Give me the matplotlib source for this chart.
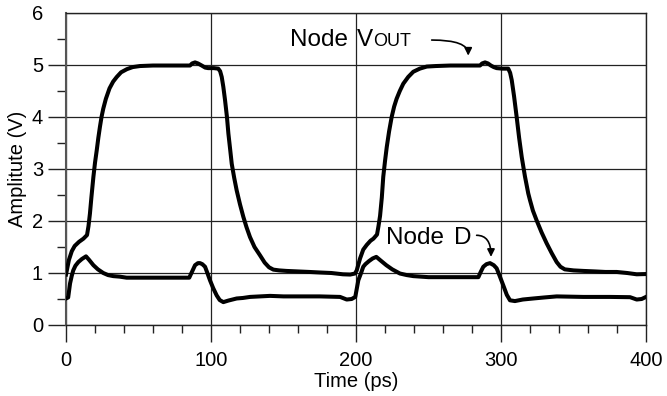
import matplotlib
matplotlib.use("Agg")
import matplotlib.pyplot as plt
from matplotlib.ticker import MultipleLocator, FixedLocator

plt.rcParams['font.family'] = ['Liberation Sans', 'DejaVu Sans']

# ---- data ----
vout_t = [0, 2, 4, 6, 9, 12, 14.5, 15.5, 16.5, 17.5, 18.9, 20, 21.2, 22.3, 23.4, 24.5,
          25.7, 27.5, 30, 32.5, 35, 38, 42, 46, 51, 60, 70, 80, 85.5, 87, 89, 91, 93.6,
          96, 98, 102, 105, 106.3, 107.4, 108.5, 109.7, 111, 112, 113.2, 114.3, 116,
          117.7, 120, 122.3, 124.5, 126.9, 130, 133.8, 137, 140, 143, 147, 152, 160,
          168, 175, 183, 191, 196, 199.3,
          200.5, 202.8, 205, 207.4, 210, 212, 214.5, 215.5, 216.6, 217.8, 218.8, 220,
          221.2, 222.8, 224.6, 226.3, 228, 230.2, 232.6, 236, 239.5, 244, 248.8, 255,
          265, 275, 285.5, 287, 289, 291, 293, 295, 297, 301, 305, 306.3, 307.4, 309,
          310.8, 312.5, 314.3, 316.5, 318.8, 320, 322, 324.6, 328, 331.5, 335, 338.4,
          341, 344, 350, 356.8, 365, 372, 379.8, 387, 393.6, 400]
vout_v = [0.97, 1.25, 1.42, 1.52, 1.60, 1.66, 1.73, 1.90, 2.14, 2.45, 2.85, 3.12, 3.36,
          3.60, 3.81, 4.00, 4.16, 4.35, 4.55, 4.68, 4.77, 4.86, 4.92, 4.96, 4.98, 4.99,
          4.99, 4.99, 4.99, 5.03, 5.05, 5.03, 4.99, 4.95, 4.94, 4.94, 4.93, 4.88, 4.77,
          4.58, 4.32, 4.00, 3.68, 3.38, 3.10, 2.83, 2.59, 2.32, 2.08, 1.88, 1.69, 1.50,
          1.34, 1.20, 1.11, 1.065, 1.05, 1.04, 1.03, 1.02, 1.01, 1.00, 0.975, 0.97, 0.99,
          1.05, 1.28, 1.45, 1.54, 1.62, 1.66, 1.74, 1.90, 2.10, 2.45, 2.85, 3.15,
          3.42, 3.72, 4.00, 4.20, 4.35, 4.50, 4.64, 4.77, 4.87, 4.93, 4.97, 4.98,
          4.99, 4.99, 4.99, 5.03, 5.05, 5.03, 4.99, 4.96, 4.94, 4.93, 4.93, 4.85, 4.71,
          4.40, 4.00, 3.60, 3.23, 2.86, 2.53, 2.40, 2.20, 2.01, 1.78, 1.57, 1.38, 1.21,
          1.12, 1.07, 1.05, 1.04, 1.03, 1.02, 1.02, 1.00, 0.975, 0.98]

d_t = [0, 1.5, 2.8, 4, 5, 6.5, 8.5, 11, 13.8, 16, 18.9, 22, 25.7, 29, 32.6, 37, 41.8,
       60, 75, 85, 87, 89, 91, 92.4, 94, 95.9, 97.5, 99.3, 101.5, 103.9, 106, 108.5,
       112, 117.7, 122, 126.9, 133.8, 140.7, 150, 160, 175, 189, 193.6, 197, 199.5,
       201.6, 203.5, 205, 206.5, 209, 211.5, 214, 217, 220.9, 225, 230.3, 235, 239.5,
       250, 265, 284.4, 286, 287.8, 290, 292.4, 295, 297, 299, 301.6, 304, 306.2,
       309.6, 315, 322.3, 330, 338.4, 356.8, 375, 389, 393.6, 397, 400]
d_v = [0.51, 0.53, 0.80, 0.95, 1.05, 1.14, 1.21, 1.27, 1.32, 1.25, 1.15, 1.07, 1.00,
       0.96, 0.94, 0.93, 0.91, 0.91, 0.91, 0.91, 1.03, 1.15, 1.19, 1.19, 1.17, 1.12,
       1.00, 0.86, 0.71, 0.57, 0.48, 0.44, 0.47, 0.51, 0.52, 0.54, 0.55, 0.56, 0.55,
       0.55, 0.55, 0.54, 0.49, 0.50, 0.54, 0.86, 1.00, 1.12, 1.17, 1.23, 1.28, 1.31,
       1.24, 1.15, 1.07, 0.99, 0.96, 0.94, 0.92, 0.92, 0.92, 1.02, 1.12, 1.17, 1.19,
       1.15, 1.09, 0.95, 0.76, 0.58, 0.475, 0.46, 0.49, 0.51, 0.53, 0.55, 0.54, 0.54,
       0.535, 0.49, 0.50, 0.54]

x_major = [0, 100, 200, 300, 400]
y_major = [0, 1, 2, 3, 4, 5, 6]

fig = plt.figure(figsize=(6.67, 3.96), dpi=100)
ax = fig.add_axes([66/667, 1-325/396, 580/667, 312/396])

ax.plot(vout_t, vout_v, color='black', lw=2.9, solid_joinstyle='round', zorder=3)
ax.plot(d_t, d_v, color='black', lw=2.9, solid_joinstyle='round', zorder=3)

ax.set_xlim(0, 400)
ax.set_ylim(0, 6)
ax.xaxis.set_major_locator(FixedLocator(x_major))
ax.yaxis.set_major_locator(FixedLocator(y_major))
ax.xaxis.set_minor_locator(MultipleLocator(20))
ax.yaxis.set_minor_locator(MultipleLocator(0.5))

ax.grid(True, which='major', color='#222222', lw=0.9)
for s in ax.spines.values():
    s.set_color('#222222')
    s.set_linewidth(1.0)
ax.spines['left'].set_color('#555555')
ax.spines['left'].set_linewidth(1.5)

fs_tick = 14.5
ax.tick_params(axis='x', which='major', direction='out', length=12.2, width=1.0,
               color='#222222', labelsize=fs_tick, pad=6.5)
ax.tick_params(axis='x', which='minor', direction='out', length=5.8, width=1.0, color='#222222')
ax.tick_params(axis='y', which='major', direction='out', length=13, width=1.0,
               color='#222222', labelsize=fs_tick, pad=3.5)
ax.tick_params(axis='y', which='minor', direction='out', length=6.5, width=1.0, color='#222222')
ax.tick_params(top=False, right=False)
ax.yaxis.get_major_ticks()[-1].tick1line.set_visible(False)

ax.set_xlabel('Time (ps)', fontsize=fs_tick)
ax.set_ylabel('Amplitute (V)', fontsize=fs_tick)
ax.xaxis.set_label_coords(0.5, -0.152)
ax.yaxis.set_label_coords(-0.068, 0.5)

# annotations
fs_big = 17.5
fs_small = 13.0
ax.text(154.5, 5.37, 'Node', fontsize=fs_big, ha='left', va='baseline', zorder=4)
t1 = ax.text(200.3, 5.37, 'V', fontsize=fs_big, ha='left', va='baseline', zorder=4)
ax.annotate('OUT', xy=(1, 0), xycoords=t1, xytext=(0.3, 0.212*fs_big),
            textcoords='offset points', fontsize=fs_small, ha='left', va='baseline')
ax.text(221.0, 1.55, 'Node', fontsize=fs_big, ha='left', va='baseline', zorder=4)
ax.text(267.5, 1.55, 'D', fontsize=fs_big, ha='left', va='baseline', zorder=4)

arrow_kw = dict(arrowstyle='-|>', connectionstyle='angle3,angleA=0,angleB=90',
                lw=1.2, color='black', shrinkA=0, shrinkB=0, mutation_scale=11)
ax.annotate('', xy=(277.4, 5.18), xytext=(252.2, 5.48), arrowprops=arrow_kw)
ax.annotate('', xy=(293.1, 1.31), xytext=(283.2, 1.725), arrowprops=arrow_kw)

fig.savefig('out.png', dpi=100)
